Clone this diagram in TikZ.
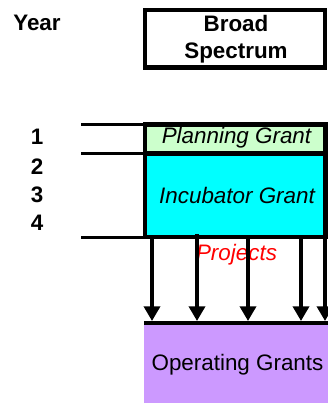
\documentclass[tikz,border=0pt]{standalone}
\usepackage{fontspec}
\setmainfont{Liberation Sans}
\usetikzlibrary{arrows.meta}
\definecolor{plangreen}{HTML}{CCFFCC}
\definecolor{incucyan}{HTML}{00FFFF}
\definecolor{opviolet}{HTML}{CC99FF}
\begin{document}
\begin{tikzpicture}[x=0.75pt,y=-0.75pt,
    txt/.style={font=\fontsize{16.8}{20}\selectfont},
    boldtxt/.style={font=\fontsize{16.8}{20}\selectfont\bfseries},
    ittxt/.style={font=\fontsize{16.8}{20}\selectfont\itshape},
    thickline/.style={line width=3.2pt},
    yearline/.style={line width=2.5pt},
    flow/.style={-{Triangle[length=11pt,width=12pt]},line width=2.6pt}]
    \useasboundingbox (0,0) rectangle (328,403);
    % en-tete
    \node[boldtxt] (year) at (37,23) {Year};
    \draw[thickline] (144.7,10.3) rectangle (325,67.5);
    \node[boldtxt,align=center] (broad) at (236,39) {Broad\\Spectrum};
    % annees
    \node[boldtxt] (y1) at (37,137) {1};
    \node[boldtxt] (y2) at (37,167) {2};
    \node[boldtxt] (y3) at (37,195) {3};
    \node[boldtxt] (y4) at (37,223) {4};
    \draw[yearline] (81,124.3)--(145,124.3);
    \draw[yearline] (81,153.5)--(145,153.5);
    \draw[yearline] (81,237.5)--(145,237.5);
    % subventions
    \fill[plangreen] (145,124.5) rectangle (325.5,153.5);
    \fill[incucyan] (145,153.5) rectangle (325.5,237);
    \draw[thickline] (145,153.5)--(325.5,153.5);
    \draw[thickline] (145,124.5) rectangle (325.5,237);
    \node[ittxt] (plan) at (236.5,138) {Planning Grant};
    \node[ittxt] (incub) at (237,195) {Incubator Grant};
    % projets
    \node[ittxt,text=red] (proj) at (236.5,255) {Projects};
    \fill[opviolet] (144,323) rectangle (328,403);
    \draw[thickline] (144,323)--(328,323);
    \node[txt] (oper) at (237.5,365) {Operating Grants};
    \coordinate (a1) at (152,237);   \coordinate (b1) at (152,321);
    \coordinate (a2) at (197,234);   \coordinate (b2) at (197,321);
    \coordinate (a3) at (248,237);   \coordinate (b3) at (248,321);
    \coordinate (a4) at (301,237);   \coordinate (b4) at (301,321);
    \coordinate (a5) at (325,237);   \coordinate (b5) at (325,321);
    \draw[flow] (a1)--(b1);
    \draw[flow] (a2)--(b2);
    \draw[flow] (a3)--(b3);
    \draw[flow] (a4)--(b4);
    \draw[flow] (a5)--(b5);
\end{tikzpicture}
\end{document}
